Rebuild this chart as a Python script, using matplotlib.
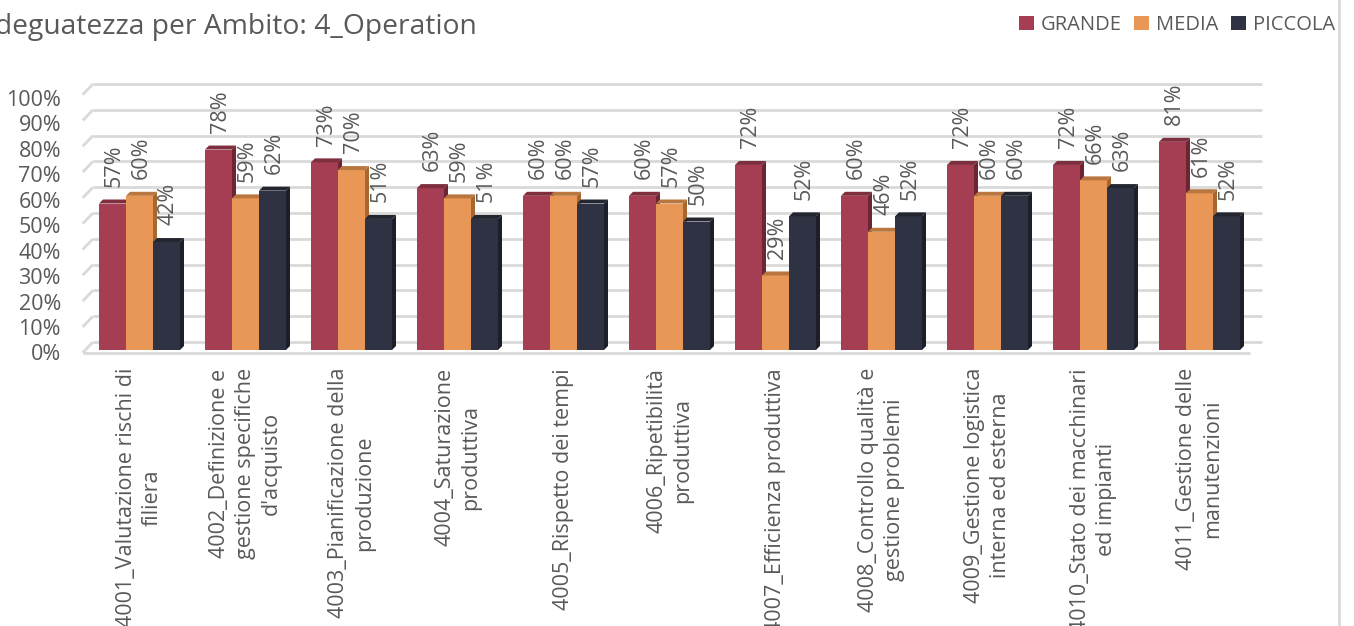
import numpy as np
import matplotlib
matplotlib.use("Agg")
import matplotlib.pyplot as plt
from matplotlib.lines import Line2D
from matplotlib.patches import Patch

plt.rcParams['font.family'] = ['Open Sans', 'DejaVu Sans']

categorie = [
    "4001_Valutazione rischi di\nfiliera",
    "4002_Definizione e\ngestione specifiche\nd'acquisto",
    "4003_Pianificazione della\nproduzione",
    "4004_Saturazione\nproduttiva",
    "4005_Rispetto dei tempi",
    "4006_Ripetibilità\nproduttiva",
    "4007_Efficienza produttiva",
    "4008_Controllo qualità e\ngestione problemi",
    "4009_Gestione logistica\ninterna ed esterna",
    "4010_Stato dei macchinari\ned impianti",
    "4011_Gestione delle\nmanutenzioni",
]
grande = [57, 78, 73, 63, 60, 60, 72, 60, 72, 72, 81]
media = [60, 59, 70, 59, 60, 57, 29, 46, 60, 66, 61]
piccola = [42, 62, 51, 51, 57, 50, 52, 52, 60, 63, 52]
serie = ["GRANDE", "MEDIA", "PICCOLA"]
yticks = [0, 10, 20, 30, 40, 50, 60, 70, 80, 90, 100]

# front, top, side colours for each series
colori = [("#A53E52", "#7E2E3D", "#6E2533"),
          ("#E89756", "#B9773F", "#A8672F"),
          ("#2F3242", "#23252F", "#1D1F28")]
testo = "#595959"
griglia = "#D9D9D9"
fs = 15.5

W, H = 1354, 626
fig = plt.figure(figsize=(W / 100, H / 100), dpi=100)

# pixel layout of the plot: group spacing 106 px, 100% = 257 px
passo, scala = 106.0, 257.0
x0_px, y0_px = 139.5, 350.0
ax_l, ax_r, ax_t, ax_b = 60, 1280, 60, 365
ax = fig.add_axes([ax_l / W, 1 - ax_b / H, (ax_r - ax_l) / W, (ax_b - ax_t) / H])
ax.set_xlim((ax_l - x0_px) / passo, (ax_r - x0_px) / passo)
ax.set_ylim((y0_px - ax_b) / scala, (y0_px - ax_t) / scala)
ax.axis("off")

def px_x(p):
    return (p - x0_px) / passo

def px_y(p):
    return (y0_px - p) / scala

# back wall gridlines with the short oblique side-wall segment
for t in yticks:
    v = t / 100
    yb = v * 258 / scala + px_y(342)
    yf = v * 258 / scala + px_y(352.7)
    ax.plot([px_x(82.7), px_x(93)], [yf, yb], color=griglia, lw=2, zorder=1,
            solid_capstyle="butt")
    ax.plot([px_x(93), px_x(1262)], [yb, yb], color=griglia, lw=2, zorder=1,
            solid_capstyle="butt")
# front edge of the floor
ax.plot([px_x(82.7), px_x(1250)], [px_y(352.7)] * 2, color=griglia, lw=2, zorder=1,
        solid_capstyle="butt")

# y labels
for t in yticks:
    ax.text(px_x(61), t / 100 * 0.992 + px_y(355), f"{t}%", ha="right", va="center",
            fontsize=fs, color=testo)

x = np.arange(len(categorie))
w = 27 / passo
dx, dy = 4 / passo, 4 / scala
valori = [grande, media, piccola]
handles = []
for k, (vals, (cf, ct, cs)) in enumerate(zip(valori, colori)):
    xs = x + (k - 1) * w
    z = 3 + k
    ax.bar(xs, np.array(vals) / 100, width=w, color=cf, zorder=z)
    for xc, val in zip(xs, vals):
        v = val / 100
        l, r = xc - w / 2, xc + w / 2
        ax.fill([l, r, r + dx, l + dx], [v, v, v + dy, v + dy], color=ct, zorder=z,
                lw=0)
        ax.fill([r, r + dx, r + dx, r], [0, dy, v + dy, v], color=cs, zorder=z, lw=0)
        ax.annotate(f"{val}%", (xc + dx / 2, v), xytext=(0, 12),
                    textcoords="offset points", rotation=90, ha="center",
                    va="bottom", fontsize=fs, color=testo, zorder=10,
                    annotation_clip=False)
    handles.append(Patch(facecolor=cf, label=serie[k]))

# category labels below the floor
for xi, lab in zip(x, categorie):
    ax.text(xi, px_y(368), lab, rotation=90, ha="center", va="top",
            multialignment="center", fontsize=fs, color=testo, clip_on=False,
            linespacing=1.3)

fig.text(477 / W, 1 - 34 / H, "Adeguatezza per Ambito: 4_Operation", ha="right",
         va="baseline", fontsize=20.3, color=testo)

fig.legend(handles=handles, loc="upper right", bbox_to_anchor=(1343 / W, 1 - 7 / H),
           ncol=3, frameon=False, fontsize=14.5, labelcolor=testo,
           handlelength=0.75, handleheight=0.75, handletextpad=0.35,
           columnspacing=0.6, borderaxespad=0)

fig.add_artist(Line2D([1339 / W] * 2, [0, 1], transform=fig.transFigure,
                      color=griglia, lw=2))

fig.savefig("out.png", dpi=100)
